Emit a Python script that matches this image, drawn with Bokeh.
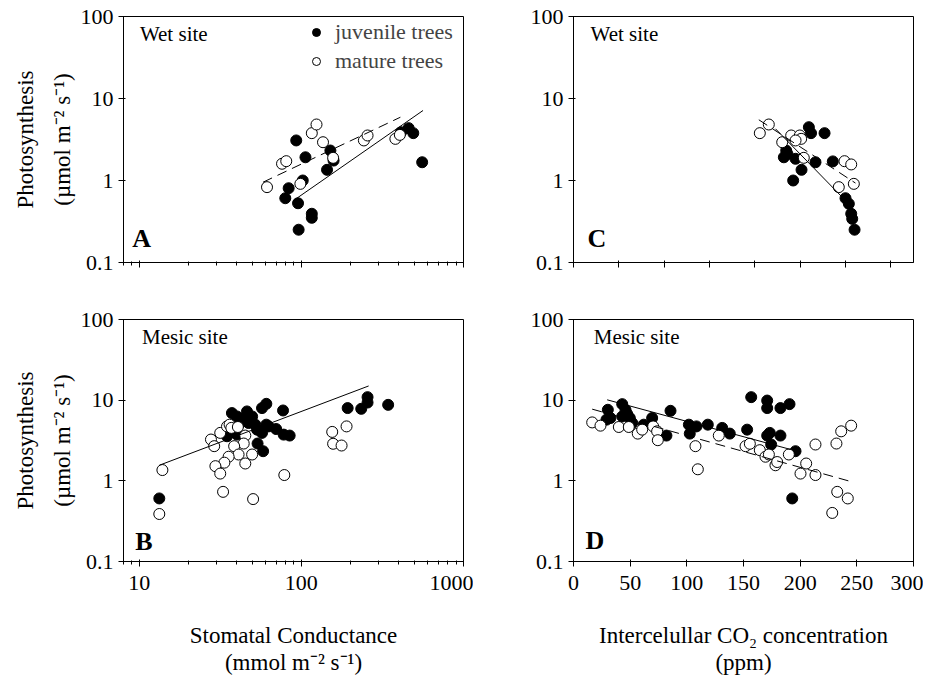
from bokeh.plotting import figure
from bokeh.models import (FixedTicker, CustomJSTickFormatter, Label, Legend,
                          LegendItem, Range1d)
from bokeh.layouts import gridplot
from bokeh.embed import file_html
from bokeh.resources import INLINE

# ---------------- data ----------------
# Panel A: wet site, stomatal conductance (mmol m-2 s-1) vs photosynthesis
a_juv_x = [93, 106, 151, 158, 144, 102, 83.5, 79.6, 95.4, 116, 116, 96.2, 459, 490, 412, 556]
a_juv_y = [3.08, 1.92, 2.32, 1.75, 1.35, 1.0, 0.805, 0.608, 0.528, 0.393, 0.351, 0.251, 4.35, 3.78, 3.88, 1.67]
a_mat_x = [61.4, 76, 80.7, 98.6, 116, 124, 136, 157, 243, 256, 380, 405]
a_mat_y = [0.83, 1.6, 1.72, 0.91, 3.78, 4.82, 2.93, 1.89, 3.08, 3.54, 3.22, 3.6]
a_fit_juv_x = [89.5, 563]
a_fit_juv_y = [0.57, 7.14]
a_fit_mat_x = [58, 408]
a_fit_mat_y = [0.953, 5.91]

# Panel B: mesic site, stomatal conductance
b_juv_x = [13.3, 37.3, 40.1, 46.2, 44.1, 49.7, 57.2, 60.8, 77.1, 52, 60.8, 53.3, 69.9, 77.8,
           84.7, 57.2, 40.1, 34.8, 53.7, 58.1, 193, 234, 256, 256, 343, 42, 47.3, 62.8]
b_juv_y = [0.605, 6.92, 6.28, 7.25, 5.73, 6.28, 7.98, 9.01, 7.45, 4.97, 4.97, 4.31, 4.39, 3.74,
           3.64, 3.93, 3.74, 3.57, 2.9, 2.33, 7.98, 7.81, 9.34, 10.9, 8.75, 5.21, 5.21, 4.73]
b_mat_x = [13.3, 13.9, 27.7, 29.0, 31.6, 34.8, 36.1, 37, 40.6, 45.1, 44.1, 38.5, 41, 35.6,
           33.5, 29.5, 31.6, 49.7, 45.1, 32.9, 50.4, 78.5, 155, 157, 177, 190]
b_mat_y = [0.388, 1.36, 3.25, 2.69, 3.93, 4.73, 4.97, 4.53, 4.65, 3.64, 2.9, 2.69, 2.12, 1.99,
           1.68, 1.52, 1.23, 2.12, 1.64, 0.73, 0.594, 1.18, 4.04, 2.88, 2.74, 4.73]
b_fit_juv_x = [13.3, 260]
b_fit_juv_y = [1.56, 15.0]

# Panel C: wet site, intercellular CO2 (ppm)
c_juv_x = [259.6, 262, 276.9, 234.6, 232, 244.9, 266.9, 286, 251.5, 242.3, 300, 303.7, 306.3,
           307.4, 310, 236]
c_juv_y = [4.47, 3.78, 3.78, 2.32, 1.92, 1.84, 1.67, 1.71, 1.35, 1.0, 0.608, 0.52, 0.393,
           0.341, 0.251, 2.1]
c_mat_x = [205.5, 215.4, 230.2, 240.1, 249.6, 251.1, 254, 298.9, 306.3, 309.2, 292.6, 244.9]
c_mat_y = [3.78, 4.82, 2.93, 3.54, 3.54, 3.22, 1.89, 1.72, 1.57, 0.91, 0.83, 3.08]
c_fit_juv_x = [222.8, 296.4]
c_fit_juv_y = [4.27, 0.625]
c_fit_mat_x = [204.4, 311]
c_fit_mat_y = [5.5, 0.93]

# Panel D: mesic site, intercellular CO2 (ppm)
d_juv_x = [30.3, 43, 45.9, 32.6, 29.1, 43, 49.7, 51.8, 47.4, 62, 69.4, 85.6, 82, 101.8, 102.6,
           108.5, 118.5, 131.2, 137.9, 153.2, 156.8, 170.9, 170.9, 182.6, 190.6, 173.2, 170.9,
           182.6, 174.4, 195.9, 193]
d_juv_y = [7.6, 8.93, 7.6, 6.01, 5.73, 6.28, 6.01, 5.21, 6.73, 4.97, 6.01, 7.38, 3.64, 4.97,
           3.85, 4.73, 4.97, 4.53, 3.85, 4.31, 10.9, 9.89, 7.98, 7.98, 8.93, 3.93, 3.64, 3.64,
           2.82, 2.33, 0.605]
d_mat_x = [16.5, 23.8, 40, 48.8, 56.7, 60.6, 70.3, 73.8, 74.4, 107.6, 109.7, 128.2, 151.8,
           155.6, 164.4, 169.4, 172.4, 178.2, 179.7, 190, 200.3, 205.3, 213.5, 213.5, 232,
           236.2, 245, 232.7, 242, 228.3]
d_mat_y = [5.3, 4.83, 4.65, 4.65, 3.85, 4.31, 4.73, 4.11, 3.19, 2.69, 1.39, 3.64, 2.69, 2.88,
           2.4, 1.99, 2.12, 1.56, 1.71, 2.12, 1.23, 1.64, 1.18, 2.82, 2.9, 4.11, 4.83, 0.73,
           0.605, 0.40]
d_fit_juv_x = [29.7, 191.5]
d_fit_juv_y = [10.1, 2.45]
d_fit_mat_x = [16.5, 245.9]
d_fit_mat_y = [7.74, 0.97]

y_ticks = [0.1, 1, 10, 100]
gs_ticks = [10, 100, 1000]
gs_minor = [8, 9, 20, 30, 40, 50, 60, 70, 80, 90, 200, 300, 400, 500, 600, 700, 800, 900]
ci_ticks = [0, 50, 100, 150, 200, 250, 300]
ci_ticks_wet = [0, 50, 100, 150, 200, 250, 300, 350]

series_names = ["juvenile trees", "mature trees"]
y_label = "Photosynthesis\n(\u00b5mol m\u207b\u00b2 s\u207b\u00b9)"
gs_label = "Stomatal Conductance\n(mmol m\u207b\u00b2 s\u207b\u00b9)"
ci_label = "Intercelullar CO\u2082 concentration\n(ppm)"

FONT = "Liberation Serif"
TICK_FS = "22px"
LAB_FS = "23px"


def make_fig(x_type, xr, width, height, bl, br, bt, bb, xticks, xminor, show_xlabels):
    p = figure(width=width, height=height, x_axis_type=x_type, y_axis_type="log",
               x_range=Range1d(*xr), y_range=Range1d(0.1, 100),
               output_backend="svg", toolbar_location=None,
               min_border_left=bl, min_border_right=br,
               min_border_top=bt, min_border_bottom=bb)
    p.grid.visible = False
    p.outline_line_color = "black"
    p.outline_line_width = 1
    p.background_fill_color = "white"
    p.border_fill_color = "white"
    xa = p.xaxis[0]
    ya = p.yaxis[0]
    xa.ticker = FixedTicker(ticks=xticks, minor_ticks=xminor)
    ya.ticker = FixedTicker(ticks=y_ticks, minor_ticks=[])
    ya.formatter = CustomJSTickFormatter(code="return tick.toString();")
    if show_xlabels:
        xa.formatter = CustomJSTickFormatter(code="return tick.toString();")
    else:
        xa.formatter = CustomJSTickFormatter(code="return '';")
    for ax in (xa, ya):
        ax.axis_line_color = "black"
        ax.major_tick_line_color = "black"
        ax.minor_tick_line_color = "black"
        ax.major_tick_in = 2
        ax.major_tick_out = 5
        ax.minor_tick_in = 1
        ax.minor_tick_out = 3
        ax.major_label_text_font = FONT
        ax.major_label_text_font_size = TICK_FS
        ax.major_label_text_color = "black"
        ax.axis_label_text_font = FONT
        ax.axis_label_text_font_size = LAB_FS
        ax.axis_label_text_font_style = "normal"
        ax.axis_label_text_color = "black"
    xa.major_label_standoff = 9
    xa.axis_label_text_line_height = 1.1
    xa.axis_label_standoff = 30
    ya.axis_label_text_line_height = 1.45
    ya.axis_label_standoff = 3
    return p


def add_points(p, jx, jy, mx, my):
    rj = p.scatter(jx, jy, size=11, fill_color="black", line_color="black", line_width=1)
    rm = p.scatter(mx, my, size=11, fill_color="white", line_color="black", line_width=1)
    return rj, rm


def add_text(p, x, y, text, size="21px", bold=False, baseline="top"):
    p.add_layout(Label(x=x, y=y, text=text, text_font=FONT, text_font_size=size,
                       text_font_style="bold" if bold else "normal",
                       text_color="black", text_baseline=baseline, text_align="left"))


LW, RW = 473, 450
TH, BH = 282, 396

# Panel A
pA = make_fig("log", (8, 1000), LW, TH, 123, 10, 16, 20, gs_ticks, gs_minor, False)
pA.yaxis[0].axis_label = y_label
rjA, rmA = add_points(pA, a_juv_x, a_juv_y, a_mat_x, a_mat_y)
pA.line(a_fit_juv_x, a_fit_juv_y, line_color="black", line_width=1)
pA.line(a_fit_mat_x, a_fit_mat_y, line_color="black", line_width=1, line_dash="10 6")
add_text(pA, 10.1, 84.5, "Wet site")
add_text(pA, 9.06, 0.196, "A", size="26px", bold=True, baseline="middle")
legend = Legend(items=[LegendItem(label=series_names[0], renderers=[rjA]),
                       LegendItem(label=series_names[1], renderers=[rmA])],
                location="top_right", margin=3, padding=10, spacing=3,
                glyph_width=20, glyph_height=20, label_height=20, label_width=125,
                label_standoff=9,
                label_text_font=FONT, label_text_font_size="22px",
                border_line_color=None, background_fill_alpha=0)
pA.add_layout(legend)

# Panel C
pC = make_fig("linear", (0, 375), RW, TH, 100, 10, 16, 20, ci_ticks_wet, [], False)
add_points(pC, c_juv_x, c_juv_y, c_mat_x, c_mat_y)
pC.line(c_fit_juv_x, c_fit_juv_y, line_color="black", line_width=1)
pC.line(c_fit_mat_x, c_fit_mat_y, line_color="black", line_width=1, line_dash="10 6")
add_text(pC, 18.8, 84.5, "Wet site")
add_text(pC, 15.4, 0.196, "C", size="26px", bold=True, baseline="middle")

# Panel B
pB = make_fig("log", (8, 1000), LW, BH, 123, 10, 37, 115, gs_ticks, gs_minor, True)
pB.yaxis[0].axis_label = y_label
pB.xaxis[0].axis_label = gs_label
add_points(pB, b_juv_x, b_juv_y, b_mat_x, b_mat_y)
pB.line(b_fit_juv_x, b_fit_juv_y, line_color="black", line_width=1)
add_text(pB, 10.4, 84.4, "Mesic site")
add_text(pB, 9.44, 0.176, "B", size="26px", bold=True, baseline="middle")

# Panel D
pD = make_fig("linear", (0, 300), RW, BH, 100, 10, 37, 115, ci_ticks, [], True)
pD.xaxis[0].axis_label = ci_label
add_points(pD, d_juv_x, d_juv_y, d_mat_x, d_mat_y)
pD.line(d_fit_juv_x, d_fit_juv_y, line_color="black", line_width=1)
pD.line(d_fit_mat_x, d_fit_mat_y, line_color="black", line_width=1, line_dash="10 6")
add_text(pD, 17.9, 84.4, "Mesic site")
add_text(pD, 10.6, 0.183, "D", size="26px", bold=True, baseline="middle")

grid = gridplot([[pA, pC], [pB, pD]], toolbar_location=None)

open("out.html", "w").write(file_html(grid, INLINE))
